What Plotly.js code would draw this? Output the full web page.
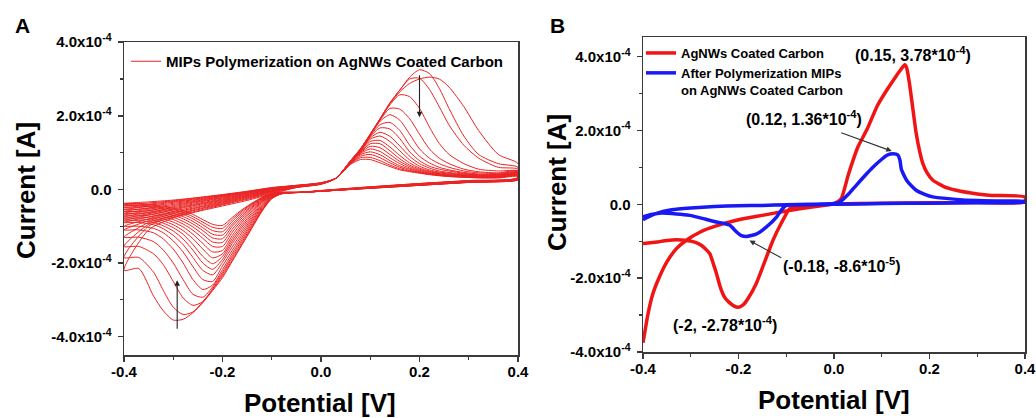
<!DOCTYPE html>
<html><head><meta charset="utf-8">
<script src="https://cdn.plot.ly/plotly-3.0.1.min.js"></script>
<style>html,body{margin:0;padding:0;background:#fff;} #chart{width:1036px;height:418px;}</style>
</head><body><div id="chart"></div>
<script>
// ---------- Panel A: repeated CV cycles (current in units of 1e-4 A) ----------
const potentialForward = [-0.4, -0.35, -0.3, -0.25, -0.2, -0.15, -0.1, -0.05, 0.0, 0.03, 0.06, 0.08, 0.10, 0.12, 0.14, 0.16, 0.18, 0.20, 0.22, 0.24, 0.26, 0.29, 0.32, 0.36, 0.4];
const potentialReverse = [0.4, 0.3, 0.2, 0.1, 0.0, -0.04, -0.08, -0.1, -0.12, -0.14, -0.16, -0.18, -0.2, -0.22, -0.24, -0.26, -0.28, -0.3, -0.32, -0.34, -0.37, -0.4];

const fwd01 = [-2.2, -1.1, -0.78, -0.6, -0.45, -0.3, -0.12, 0.05, 0.14, 0.3, 0.78, 1.1, 1.5, 1.92, 2.33, 2.65, 2.88, 3.0, 3.05, 3.0, 2.78, 2.25, 1.6, 0.95, 0.7];
const fwd02 = [-1.85, -1.0, -0.75, -0.58, -0.42, -0.27, -0.1, 0.05, 0.14, 0.3, 0.78, 1.1, 1.5, 1.92, 2.35, 2.7, 3.05, 3.25, 3.15, 2.75, 2.2, 1.45, 0.95, 0.7, 0.6];
const fwd03 = [-1.55, -0.95, -0.72, -0.55, -0.4, -0.25, -0.08, 0.06, 0.15, 0.3, 0.78, 1.1, 1.5, 1.92, 2.35, 2.7, 3.0, 3.02, 2.72, 2.25, 1.75, 1.2, 0.85, 0.6, 0.55];
const fwd04 = [-1.3, -0.9, -0.7, -0.53, -0.38, -0.23, -0.07, 0.06, 0.15, 0.3, 0.77, 1.09, 1.49, 1.9, 2.3, 2.57, 2.52, 2.2, 1.7, 1.25, 0.95, 0.7, 0.55, 0.5, 0.5];
const fwd05 = [-1.1, -0.85, -0.66, -0.5, -0.36, -0.21, -0.06, 0.07, 0.15, 0.3, 0.77, 1.08, 1.48, 1.88, 2.2, 2.18, 1.92, 1.5, 1.1, 0.85, 0.7, 0.55, 0.48, 0.45, 0.5];
const fwd06 = [-1.0, -0.8, -0.63, -0.48, -0.34, -0.2, -0.05, 0.07, 0.15, 0.3, 0.76, 1.07, 1.47, 1.85, 2.03, 1.88, 1.5, 1.1, 0.85, 0.7, 0.6, 0.5, 0.45, 0.43, 0.48];
const fwd07 = [-0.9, -0.75, -0.6, -0.45, -0.32, -0.18, -0.04, 0.07, 0.16, 0.3, 0.76, 1.06, 1.45, 1.76, 1.82, 1.6, 1.2, 0.9, 0.72, 0.6, 0.53, 0.46, 0.42, 0.41, 0.47];
const fwd08 = [-0.85, -0.7, -0.56, -0.42, -0.3, -0.17, -0.03, 0.08, 0.16, 0.3, 0.75, 1.05, 1.43, 1.67, 1.64, 1.38, 1.02, 0.78, 0.63, 0.55, 0.5, 0.44, 0.4, 0.4, 0.45];
const fwd09 = [-0.8, -0.66, -0.53, -0.4, -0.28, -0.15, -0.02, 0.08, 0.16, 0.3, 0.75, 1.04, 1.4, 1.55, 1.44, 1.18, 0.9, 0.7, 0.58, 0.5, 0.46, 0.42, 0.39, 0.39, 0.44];
const fwd10 = [-0.75, -0.62, -0.5, -0.38, -0.26, -0.14, -0.01, 0.08, 0.16, 0.3, 0.74, 1.03, 1.36, 1.45, 1.3, 1.05, 0.8, 0.63, 0.53, 0.47, 0.44, 0.4, 0.38, 0.38, 0.43];
const fwd11 = [-0.7, -0.58, -0.47, -0.35, -0.24, -0.13, 0.0, 0.09, 0.16, 0.3, 0.74, 1.02, 1.3, 1.33, 1.15, 0.92, 0.72, 0.58, 0.5, 0.45, 0.42, 0.39, 0.37, 0.37, 0.42];
const fwd12 = [-0.65, -0.54, -0.44, -0.33, -0.22, -0.11, 0.01, 0.09, 0.17, 0.3, 0.73, 1.0, 1.24, 1.24, 1.05, 0.83, 0.66, 0.55, 0.48, 0.43, 0.4, 0.38, 0.36, 0.36, 0.41];
const fwd13 = [-0.6, -0.5, -0.41, -0.31, -0.2, -0.1, 0.02, 0.09, 0.17, 0.3, 0.73, 0.99, 1.17, 1.13, 0.95, 0.76, 0.62, 0.52, 0.46, 0.42, 0.39, 0.37, 0.35, 0.35, 0.4];
const fwd14 = [-0.55, -0.46, -0.38, -0.29, -0.19, -0.09, 0.03, 0.1, 0.17, 0.3, 0.72, 0.97, 1.1, 1.03, 0.86, 0.7, 0.58, 0.5, 0.44, 0.41, 0.38, 0.36, 0.34, 0.34, 0.39];
const fwd15 = [-0.5, -0.43, -0.35, -0.27, -0.17, -0.08, 0.03, 0.1, 0.17, 0.3, 0.71, 0.94, 1.02, 0.94, 0.78, 0.64, 0.55, 0.48, 0.43, 0.4, 0.37, 0.35, 0.33, 0.33, 0.38];
const fwd16 = [-0.45, -0.4, -0.33, -0.25, -0.16, -0.07, 0.04, 0.1, 0.18, 0.3, 0.7, 0.9, 0.95, 0.86, 0.72, 0.6, 0.52, 0.46, 0.42, 0.39, 0.36, 0.34, 0.33, 0.33, 0.37];
const fwd17 = [-0.42, -0.37, -0.31, -0.23, -0.15, -0.06, 0.04, 0.11, 0.18, 0.3, 0.69, 0.86, 0.87, 0.78, 0.66, 0.56, 0.5, 0.45, 0.41, 0.38, 0.35, 0.33, 0.32, 0.32, 0.36];
const fwd18 = [-0.38, -0.34, -0.29, -0.22, -0.14, -0.05, 0.05, 0.11, 0.18, 0.3, 0.68, 0.81, 0.81, 0.72, 0.62, 0.53, 0.48, 0.44, 0.4, 0.37, 0.35, 0.33, 0.31, 0.31, 0.35];

const rev01 = [0.33, 0.24, 0.16, 0.07, -0.03, -0.08, -0.12, -0.25, -0.6, -1.05, -1.5, -1.95, -2.4, -2.75, -3.08, -3.35, -3.53, -3.55, -3.3, -2.9, -2.15, -2.2];
const rev02 = [0.32, 0.24, 0.16, 0.07, -0.03, -0.08, -0.12, -0.25, -0.58, -1.02, -1.47, -1.92, -2.35, -2.72, -3.05, -3.33, -3.4, -3.2, -2.75, -2.25, -1.85, -1.85];
const rev03 = [0.32, 0.23, 0.15, 0.06, -0.04, -0.08, -0.12, -0.24, -0.56, -0.98, -1.42, -1.86, -2.3, -2.7, -3.05, -3.15, -2.95, -2.5, -2.05, -1.75, -1.55, -1.55];
const rev04 = [0.31, 0.23, 0.15, 0.06, -0.04, -0.08, -0.11, -0.23, -0.53, -0.93, -1.36, -1.8, -2.25, -2.65, -2.93, -2.85, -2.45, -2.0, -1.65, -1.42, -1.3, -1.3];
const rev05 = [0.31, 0.23, 0.15, 0.06, -0.04, -0.08, -0.11, -0.22, -0.5, -0.88, -1.3, -1.73, -2.18, -2.6, -2.72, -2.45, -2.0, -1.62, -1.35, -1.18, -1.1, -1.1];
const rev06 = [0.3, 0.22, 0.14, 0.05, -0.04, -0.08, -0.11, -0.21, -0.47, -0.83, -1.23, -1.65, -2.08, -2.5, -2.45, -2.1, -1.7, -1.4, -1.18, -1.06, -1.0, -1.0];
const rev07 = [0.3, 0.22, 0.14, 0.05, -0.04, -0.08, -0.1, -0.2, -0.44, -0.78, -1.16, -1.56, -1.98, -2.32, -2.2, -1.85, -1.5, -1.25, -1.07, -0.96, -0.9, -0.9];
const rev08 = [0.29, 0.21, 0.13, 0.05, -0.04, -0.08, -0.1, -0.19, -0.41, -0.73, -1.09, -1.47, -1.9, -2.17, -2.0, -1.65, -1.35, -1.13, -0.99, -0.9, -0.85, -0.85];
const rev09 = [0.29, 0.21, 0.13, 0.05, -0.05, -0.08, -0.1, -0.18, -0.38, -0.68, -1.02, -1.4, -1.82, -2.02, -1.82, -1.5, -1.22, -1.04, -0.92, -0.84, -0.8, -0.8];
const rev10 = [0.29, 0.21, 0.13, 0.04, -0.05, -0.08, -0.1, -0.17, -0.35, -0.63, -0.96, -1.33, -1.75, -1.86, -1.62, -1.34, -1.12, -0.96, -0.86, -0.79, -0.75, -0.75];
const rev11 = [0.28, 0.2, 0.12, 0.04, -0.05, -0.08, -0.1, -0.16, -0.33, -0.58, -0.89, -1.25, -1.66, -1.7, -1.47, -1.22, -1.02, -0.89, -0.8, -0.74, -0.7, -0.7];
const rev12 = [0.28, 0.2, 0.12, 0.04, -0.05, -0.08, -0.09, -0.15, -0.31, -0.54, -0.83, -1.16, -1.55, -1.55, -1.33, -1.11, -0.94, -0.82, -0.74, -0.69, -0.65, -0.65];
const rev13 = [0.28, 0.2, 0.12, 0.04, -0.05, -0.08, -0.09, -0.14, -0.29, -0.5, -0.77, -1.08, -1.44, -1.43, -1.22, -1.02, -0.87, -0.76, -0.69, -0.64, -0.6, -0.6];
const rev14 = [0.27, 0.2, 0.12, 0.04, -0.05, -0.08, -0.09, -0.13, -0.27, -0.47, -0.72, -1.0, -1.34, -1.32, -1.12, -0.94, -0.8, -0.7, -0.64, -0.59, -0.55, -0.55];
const rev15 = [0.27, 0.2, 0.12, 0.04, -0.05, -0.08, -0.09, -0.13, -0.25, -0.44, -0.67, -0.94, -1.24, -1.22, -1.04, -0.87, -0.74, -0.65, -0.59, -0.54, -0.5, -0.5];
const rev16 = [0.27, 0.19, 0.11, 0.03, -0.05, -0.08, -0.08, -0.12, -0.24, -0.41, -0.62, -0.87, -1.15, -1.12, -0.96, -0.8, -0.68, -0.6, -0.54, -0.49, -0.45, -0.45];
const rev17 = [0.26, 0.19, 0.11, 0.03, -0.05, -0.08, -0.08, -0.12, -0.23, -0.39, -0.58, -0.81, -1.06, -1.03, -0.89, -0.74, -0.63, -0.55, -0.5, -0.46, -0.43, -0.42];
const rev18 = [0.26, 0.19, 0.11, 0.03, -0.05, -0.08, -0.08, -0.11, -0.22, -0.37, -0.55, -0.76, -0.98, -0.95, -0.82, -0.68, -0.58, -0.51, -0.46, -0.42, -0.39, -0.38];

const forwardSweeps = [fwd01, fwd02, fwd03, fwd04, fwd05, fwd06, fwd07, fwd08, fwd09, fwd10, fwd11, fwd12, fwd13, fwd14, fwd15, fwd16, fwd17, fwd18];
const reverseSweeps = [rev01, rev02, rev03, rev04, rev05, rev06, rev07, rev08, rev09, rev10, rev11, rev12, rev13, rev14, rev15, rev16, rev17, rev18];

// ---------- Panel B: bare AgNWs vs after MIP polymerization (1e-4 A) ----------
const agPotential = [-0.4, -0.39, -0.38, -0.365, -0.35, -0.33, -0.31, -0.28, -0.25, -0.2, -0.15, -0.1, -0.05, 0.0, 0.015, 0.03, 0.05, 0.07, 0.09, 0.11, 0.13, 0.14, 0.148, 0.152, 0.158, 0.165, 0.172, 0.18, 0.186, 0.195, 0.207, 0.23, 0.256, 0.3, 0.33, 0.4,
  0.4, 0.3, 0.2, 0.1, 0.0, -0.05, -0.08, -0.093, -0.11, -0.128, -0.145, -0.163, -0.18, -0.19, -0.2, -0.21, -0.22, -0.229, -0.238, -0.246, -0.253, -0.26, -0.27, -0.278, -0.29, -0.309, -0.33, -0.35, -0.37, -0.39, -0.4];
const agCurrent = [-3.75, -3.0, -2.45, -1.95, -1.56, -1.2, -0.98, -0.75, -0.6, -0.42, -0.3, -0.18, -0.08, 0.02, 0.15, 0.8, 1.55, 2.05, 2.65, 3.08, 3.47, 3.65, 3.78, 3.7, 3.28, 2.6, 1.93, 1.4, 1.11, 0.85, 0.65, 0.48, 0.38, 0.28, 0.24, 0.2,
  0.06, 0.05, 0.04, 0.03, 0.01, -0.02, -0.05, -0.12, -0.5, -0.98, -1.55, -2.15, -2.55, -2.72, -2.79, -2.75, -2.65, -2.52, -2.25, -1.88, -1.6, -1.34, -1.2, -1.11, -1.03, -0.98, -0.96, -0.98, -1.02, -1.05, -1.06];

const mipPotential = [-0.4, -0.39, -0.37, -0.34, -0.3, -0.25, -0.2, -0.15, -0.1, -0.05, 0.0, 0.012, 0.03, 0.047, 0.065, 0.082, 0.1, 0.11, 0.118, 0.124, 0.13, 0.134, 0.138, 0.141, 0.146, 0.152, 0.162, 0.172, 0.19, 0.207, 0.25, 0.3, 0.35, 0.4,
  0.4, 0.3, 0.2, 0.1, 0.0, -0.05, -0.1, -0.11, -0.12, -0.142, -0.163, -0.183, -0.195, -0.204, -0.218, -0.23, -0.246, -0.27, -0.302, -0.33, -0.365, -0.385, -0.4];
const mipCurrent = [-0.42, -0.35, -0.24, -0.15, -0.1, -0.06, -0.04, -0.03, -0.01, 0.0, 0.02, 0.06, 0.27, 0.52, 0.78, 1.01, 1.22, 1.32, 1.36, 1.37, 1.36, 1.33, 1.2, 0.95, 0.8, 0.65, 0.5, 0.38, 0.27, 0.2, 0.14, 0.1, 0.09, 0.08,
  0.06, 0.04, 0.03, 0.02, 0.0, -0.01, -0.03, -0.15, -0.34, -0.62, -0.81, -0.87, -0.84, -0.75, -0.57, -0.52, -0.48, -0.4, -0.3, -0.26, -0.24, -0.28, -0.34];

const legendA = 'MIPs Polymerization on AgNWs Coated Carbon';
const legendB1 = 'AgNWs Coated Carbon';
const legendB2 = 'After Polymerization MIPs<br>on AgNWs Coated Carbon';
const tickValsY = [-4e-4, -2e-4, 0, 2e-4, 4e-4];
const tickTextY = ['-4.0x10<sup>-4</sup>', '-2.0x10<sup>-4</sup>', '0.0', '2.0x10<sup>-4</sup>', '4.0x10<sup>-4</sup>'];
const tickValsX = [-0.4, -0.2, 0, 0.2, 0.4];
const tickTextX = ['-0.4', '-0.2', '0.0', '0.2', '0.4'];

// ---------- build ----------
const FONT = '"Liberation Sans", Arial, sans-serif';
const E4 = v => v * 1e-4;
const B = s => '<b>' + s + '</b>';
const traces = [];
forwardSweeps.forEach((fw, i) => {
  traces.push({
    x: potentialForward.concat(potentialReverse),
    y: fw.concat(reverseSweeps[i]).map(E4),
    type: 'scatter', mode: 'lines', xaxis: 'x', yaxis: 'y',
    line: {color: 'rgb(235,35,35)', width: 1, shape: 'spline', smoothing: 0.7},
    name: B(legendA), showlegend: i === 0, legend: 'legend', hoverinfo: 'skip'
  });
});
traces.push({x: agPotential, y: agCurrent.map(E4), type: 'scatter', mode: 'lines', xaxis: 'x2', yaxis: 'y2',
  line: {color: 'rgb(240,20,20)', width: 3.5, shape: 'spline', smoothing: 0.5}, name: B(legendB1), legend: 'legend2'});
traces.push({x: mipPotential, y: mipCurrent.map(E4), type: 'scatter', mode: 'lines', xaxis: 'x2', yaxis: 'y2',
  line: {color: 'rgb(25,25,245)', width: 3.5, shape: 'spline', smoothing: 0.5}, name: B(legendB2), legend: 'legend2'});

const AX = '#3a3a3a';
function xAxis(domain, anchor) {
  return {domain, anchor, range: [-0.4, 0.4], tickmode: 'array', tickvals: tickValsX, ticktext: tickTextX.map(B),
    ticks: 'outside', ticklen: 5, tickwidth: 1.5, tickcolor: AX, showline: true, linecolor: AX, linewidth: 1.5,
    mirror: true, showgrid: false, zeroline: false, ticklabelstandoff: -3, ticklabeloverflow: 'allow',
    minor: {tickmode: 'array', tickvals: [-0.3, -0.1, 0.1, 0.3], ticks: 'outside', ticklen: 3, tickwidth: 1.2, tickcolor: AX, showgrid: false},
    tickfont: {family: FONT, size: 15, weight: 'bold', color: '#000'}};
}
function yAxis(domain, anchor, range) {
  return {domain, anchor, range, tickmode: 'array', tickvals: tickValsY, ticktext: tickTextY.map(B),
    ticks: 'outside', ticklen: 5, tickwidth: 1.5, tickcolor: AX, showline: true, linecolor: AX, linewidth: 1.5,
    mirror: true, showgrid: false, zeroline: false, ticklabelstandoff: 3, ticklabeloverflow: 'allow',
    minor: {tickmode: 'array', tickvals: [-3e-4, -1e-4, 1e-4, 3e-4], ticks: 'outside', ticklen: 3, tickwidth: 1.2, tickcolor: AX, showgrid: false},
    tickfont: {family: FONT, size: 15, weight: 'bold', color: '#000'}};
}
const W = 1036, H = 418;
const px = v => v / W, py = v => (H - v) / H;
const bold = (size) => ({family: FONT, size, weight: 'bold', color: '#000'});
const txt = (text, x, y, size, extra) => Object.assign({text: B(text), xref: 'paper', yref: 'paper', x: px(x), y: py(y),
  xanchor: 'center', yanchor: 'middle', showarrow: false, font: bold(size)}, extra || {});
const dtxt = (text, xr, yr, x, y) => ({text: B(text), xref: xr, yref: yr, x, y, xanchor: 'center', yanchor: 'middle', showarrow: false, font: bold(16)});
const arrow = (xr, yr, x, y, ax, ay, col) => ({text: '', xref: xr, yref: yr, axref: xr, ayref: yr, x, y, ax, ay,
  showarrow: true, arrowhead: 2, arrowsize: 1, arrowwidth: 1.1, arrowcolor: col});

const annotations = [
  txt('A', 22, 26, 21),
  txt('B', 557, 26, 21),
  txt('Current [A]', 26, 191, 26, {textangle: -90}),
  txt('Current [A]', 557, 183, 26, {textangle: -90}),
  txt('Potential [V]', 320, 403, 26),
  txt('Potential [V]', 834, 400, 26),
  arrow('x', 'y', 0.2, 1.96e-4, 0.2, 3.14e-4, '#222'),
  arrow('x', 'y', -0.292, -2.47e-4, -0.292, -3.83e-4, '#222'),
  dtxt('(0.15, 3.78*10<sup>-4</sup>)', 'x2', 'y2', 0.165, 4.07e-4),
  dtxt('(0.12, 1.36*10<sup>-4</sup>)', 'x2', 'y2', -0.0635, 2.33e-4),
  dtxt('(-0.18, -8.6*10<sup>-5</sup>)', 'x2', 'y2', 0.016, -1.655e-4),
  dtxt('(-2, -2.78*10<sup>-4</sup>)', 'x2', 'y2', -0.228, -3.23e-4),
  arrow('x2', 'y2', 0.121, 1.44e-4, 0.012, 1.95e-4, '#333'),
  arrow('x2', 'y2', -0.177, -0.98e-4, -0.1075, -1.47e-4, '#333')
];

const layout = {
  width: W, height: H, margin: {l: 0, r: 0, t: 0, b: 0},
  paper_bgcolor: '#fff', plot_bgcolor: '#fff', font: {family: FONT, color: '#000'},
  showlegend: true,
  xaxis: xAxis([px(124), px(518)], 'y'),
  yaxis: yAxis([py(355), py(42)], 'x', [-4.5e-4, 4.005e-4]),
  xaxis2: xAxis([px(643), px(1025)], 'y2'),
  yaxis2: yAxis([py(352), py(37)], 'x2', [-4.0e-4, 4.53e-4]),
  legend: {x: px(126), y: py(45), xanchor: 'left', yanchor: 'top', bgcolor: 'rgba(0,0,0,0)', borderwidth: 0,
    font: bold(15), itemwidth: 30},
  legend2: {x: px(641), y: py(38), xanchor: 'left', yanchor: 'top', bgcolor: 'rgba(0,0,0,0)', borderwidth: 0,
    font: bold(13), itemwidth: 30, valign: 'top', tracegroupgap: 0},
  annotations
};
Plotly.newPlot('chart', traces, layout, {staticPlot: true, displayModeBar: false});
</script>
</body></html>
